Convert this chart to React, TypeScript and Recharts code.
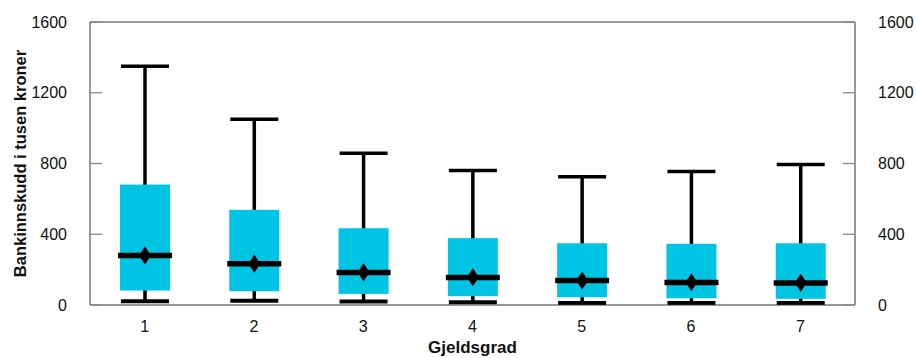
import React from "react";
import { Bar, ComposedChart, Label, Line, ReferenceLine, XAxis, YAxis } from "recharts";

const categories = ["1", "2", "3", "4", "5", "6", "7"];
const whiskerHigh = [1350, 1050, 858, 760, 725, 755, 795];
const quartile3 = [681, 538, 434, 378, 349, 346, 349];
const medians = [280, 233, 184, 155, 138, 127, 125];
const means = [280, 233, 185, 157, 139, 128, 126];
const quartile1 = [82, 78, 63, 50, 44, 38, 35];
const whiskerLow = [21, 24, 20, 16, 12, 12, 12];
const yTicks = [0, 400, 800, 1200, 1600];

const data = categories.map((name, i) => ({
  name,
  min: whiskerLow[i],
  q1: quartile1[i],
  median: medians[i],
  mean: means[i],
  q3: quartile3[i],
  max: whiskerHigh[i],
}));

const FONT = '"Liberation Sans", Arial, sans-serif';
const BOX = "#00c4e3";

// draws the whole box plot from the pixel span [min, max] that recharts gives the bar
const BoxShape = (props: any) => {
  const { x, y, width, height, payload } = props;
  const top = Math.min(y, y + height);
  const span = Math.abs(height);
  const k = span / (payload.max - payload.min);
  const py = (v: number) => top + (payload.max - v) * k;
  const cx = x + width / 2;
  const yMax = py(payload.max);
  const yMin = py(payload.min);
  const yQ3 = py(payload.q3);
  const yQ1 = py(payload.q1);
  const yMed = py(payload.median);
  const yMean = py(payload.mean);
  return (
    <g>
      <line x1={cx} x2={cx} y1={yMax} y2={yMin} stroke="#000" strokeWidth={3.5} />
      <rect x={cx - 25} y={yQ3} width={50} height={yQ1 - yQ3} fill={BOX} />
      <line x1={cx - 24} x2={cx + 24} y1={yMax} y2={yMax} stroke="#000" strokeWidth={3.5} />
      <line x1={cx - 24} x2={cx + 24} y1={yMin} y2={yMin} stroke="#000" strokeWidth={4} />
      <line x1={cx - 27} x2={cx + 27} y1={yMed} y2={yMed} stroke="#000" strokeWidth={5.5} />
      <path
        d={`M${cx},${yMean - 9} L${cx + 6},${yMean} L${cx},${yMean + 9} L${cx - 6},${yMean} Z`}
        fill="#000"
      />
    </g>
  );
};

const LeftTick = ({ x, y, payload }: any) => (
  <g>
    <line x1={x} x2={x + 12} y1={y} y2={y} stroke="#888" strokeWidth={1.3} />
    <text x={x - 23} y={y} textAnchor="end" dominantBaseline="central" fontSize={16} fill="#111" fontFamily={FONT}>
      {payload.value}
    </text>
  </g>
);

const RightTick = ({ x, y, payload }: any) => (
  <g>
    <line x1={x - 12} x2={x} y1={y} y2={y} stroke="#888" strokeWidth={1.3} />
    <text x={x + 23} y={y} textAnchor="start" dominantBaseline="central" fontSize={16} fill="#111" fontFamily={FONT}>
      {payload.value}
    </text>
  </g>
);

const BottomTick = ({ x, y, payload }: any) => (
  <text x={x} y={y + 21} textAnchor="middle" dominantBaseline="central" fontSize={16} fill="#111" fontFamily={FONT}>
    {payload.value}
  </text>
);

export default function App() {
  return (
    <div style={{ position: "absolute", left: 0, top: 0, background: "#fff" }}>
      <ComposedChart width={917} height={358} data={data} margin={{ top: 22, right: 0, bottom: 0, left: 0 }}>
        <XAxis
          dataKey="name"
          height={53}
          stroke="#333"
          tickLine={false}
          tickSize={0}
          tickMargin={0}
          tick={<BottomTick />}
          interval={0}
        >
          <Label
            content={({ viewBox }: any) => (
              <text
                x={viewBox.x + viewBox.width / 2}
                y={viewBox.y + viewBox.height - 5}
                textAnchor="middle"
                fontSize={17}
                fontWeight="bold"
                fill="#111"
                fontFamily={FONT}
              >
                Gjeldsgrad
              </text>
            )}
          />
        </XAxis>
        <YAxis
          yAxisId="left"
          width={90}
          domain={[0, 1600]}
          ticks={yTicks}
          stroke="#333"
          tickLine={false}
          tickSize={0}
          tickMargin={0}
          tick={<LeftTick />}
        >
          <Label
            content={({ viewBox }: any) => {
              const cx = viewBox.x + 19.5;
              const cy = viewBox.y + viewBox.height / 2;
              return (
                <text
                  x={cx}
                  y={cy}
                  transform={`rotate(-90 ${cx} ${cy})`}
                  textAnchor="middle"
                  dominantBaseline="central"
                  fontSize={16.5}
                  fontWeight="bold"
                  fill="#111"
                  fontFamily={FONT}
                >
                  Bankinnskudd i tusen kroner
                </text>
              );
            }}
          />
        </YAxis>
        <YAxis
          yAxisId="right"
          orientation="right"
          width={62}
          domain={[0, 1600]}
          ticks={yTicks}
          stroke="#333"
          tickLine={false}
          tickSize={0}
          tickMargin={0}
          tick={<RightTick />}
        />
        <ReferenceLine yAxisId="left" y={1600} stroke="#333" />
        <Bar
          yAxisId="left"
          dataKey={(d: any) => [d.min, d.max]}
          barSize={50}
          shape={<BoxShape />}
          isAnimationActive={false}
        />
        {/* invisible series so the right axis gets its ticks */}
        <Line
          yAxisId="right"
          dataKey="median"
          stroke="none"
          dot={false}
          activeDot={false}
          isAnimationActive={false}
        />
      </ComposedChart>
    </div>
  );
}
